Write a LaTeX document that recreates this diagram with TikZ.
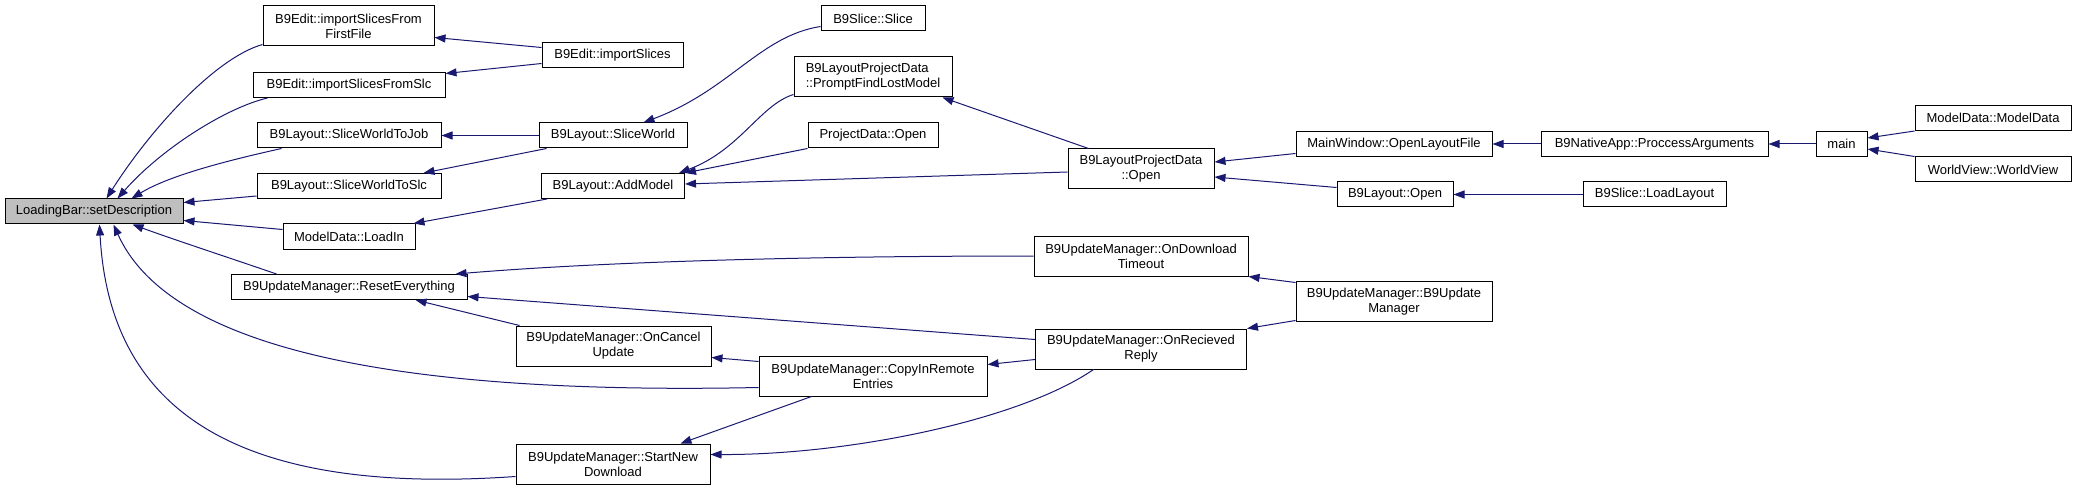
\documentclass[tikz,border=0pt]{standalone}
\usepackage{fontspec}
\setmainfont{Liberation Sans}
\usetikzlibrary{arrows.meta}
\definecolor{edgeblue}{HTML}{191970}
\definecolor{boxgray}{HTML}{BFBFBF}
\begin{document}
\begin{tikzpicture}[x=1pt, y=-1pt,
    fn/.style={draw=black, line width=1pt, fill=white, inner sep=0pt, minimum height=25pt, font=\fontsize{13}{15}\selectfont, align=center},
    fntwo/.style={fn, minimum height=40pt},
    call/.style={draw=edgeblue, line width=1pt, -{Triangle[length=11pt,width=8pt]}}]
  \useasboundingbox (0,0) rectangle (2077,489);

  % Nodi
  \node[fn, fill=boxgray, minimum width=178pt] (LB) at (94,211.5) {LoadingBar::setDescription};
  \node[fntwo, minimum width=171pt] (iSFF) at (348.5,26) {B9Edit::importSlicesFrom\\FirstFile};
  \node[fn, minimum width=192pt] (iSFS) at (349,85) {B9Edit::importSlicesFromSlc};
  \node[fn, minimum width=184pt] (SWTJ) at (349,135.5) {B9Layout::SliceWorldToJob};
  \node[fn, minimum width=184pt] (SWTS) at (349,186) {B9Layout::SliceWorldToSlc};
  \node[fn, minimum width=132pt] (LI) at (349,236.5) {ModelData::LoadIn};
  \node[fn, minimum width=236pt] (RE) at (349,287) {B9UpdateManager::ResetEverything};
  \node[fn, minimum width=141pt] (iS) at (612.5,55.5) {B9Edit::importSlices};
  \node[fn, minimum width=148pt] (SW) at (613,135.5) {B9Layout::SliceWorld};
  \node[fn, minimum width=143pt] (AM) at (613,186) {B9Layout::AddModel};
  \node[fntwo, minimum width=195pt] (OCU) at (613.5,346) {B9UpdateManager::OnCancel\\Update};
  \node[fntwo, minimum width=194pt] (SND) at (613,464) {B9UpdateManager::StartNew\\Download};
  \node[fn, minimum width=104pt] (Slice) at (873,18.5) {B9Slice::Slice};
  \node[fntwo, minimum width=158pt, align=left] (PFLM) at (873,77) {B9LayoutProjectData\\::PromptFindLostModel};
  \node[fn, minimum width=130pt] (PDO) at (873,135.5) {ProjectData::Open};
  \node[fntwo, minimum width=228pt] (CIR) at (873,376) {B9UpdateManager::CopyInRemote\\Entries};
  \node[fntwo, minimum width=146pt] (BLPD) at (1141,169) {B9LayoutProjectData\\::Open};
  \node[fntwo, minimum width=214pt] (ODT) at (1141,256) {B9UpdateManager::OnDownload\\Timeout};
  \node[fntwo, minimum width=211pt] (ORR) at (1141,349) {B9UpdateManager::OnRecieved\\Reply};
  \node[fn, minimum width=196pt] (MW) at (1394,144) {MainWindow::OpenLayoutFile};
  \node[fn, minimum width=116pt] (BLO) at (1395,194.5) {B9Layout::Open};
  \node[fntwo, minimum width=196pt] (BUM) at (1394,301.5) {B9UpdateManager::B9Update\\Manager};
  \node[fn, minimum width=227pt] (PA) at (1654.5,144) {B9NativeApp::ProccessArguments};
  \node[fn, minimum width=143pt] (LL) at (1654.5,194.5) {B9Slice::LoadLayout};
  \node[fn, minimum width=51pt] (MN) at (1841.5,144) {main};
  \node[fn, minimum width=156pt] (MD) at (1993,118) {ModelData::ModelData};
  \node[fn, minimum width=156pt] (WV) at (1993,169.5) {WorldView::WorldView};

  % Archi verso LoadingBar
  \draw[call] ([yshift=2pt]iSFF.south west) .. controls (215,58) and (150,130) .. ([xshift=102pt]LB.north west);
  \draw[call] ([xshift=15pt]iSFS.south west) .. controls (225,108) and (160,150) .. ([xshift=113pt]LB.north west);
  \draw[call] ([xshift=25pt]SWTJ.south west) .. controls (230,160) and (170,175) .. ([xshift=127pt]LB.north west);
  \draw[call] ([yshift=3pt]SWTS.south west) -- ([yshift=-4pt]LB.north east);
  \draw[call] ([yshift=-6pt]LI.north west) -- ([yshift=4pt]LB.south east);
  \draw[call] ([xshift=46pt]RE.north west) .. controls (230,258) and (175,240) .. ([xshift=128pt]LB.south west);
  \draw[call] ([yshift=9pt]CIR.south west) .. controls (400,395) and (170,350) .. ([xshift=109pt]LB.south west);
  \draw[call] ([yshift=8pt]SND.south west) .. controls (250,495) and (110,420) .. ([xshift=95pt]LB.south west);

  % Archi centrali
  \draw[call] ([yshift=-5pt]iS.north west) -- ([yshift=9pt]iSFF.south east);
  \draw[call] ([yshift=5pt]iS.south west) -- ([yshift=-1.5pt]iSFS.north east);
  \draw[call] (SW.west) -- (SWTJ.east);
  \draw[call] ([xshift=8pt]SW.south west) -- ([xshift=-18pt]SWTS.north east);
  \draw[call] ([yshift=5pt]Slice.south west) .. controls (760,36) and (730,90) .. ([xshift=-44pt]SW.north east);
  \draw[call] ([xshift=6pt]AM.south west) -- ([xshift=-2pt]LI.north east);
  \draw[call] ([yshift=3pt]PFLM.south west) .. controls (760,105) and (740,150) .. ([xshift=-6pt]AM.north east);
  \draw[call] (PDO.south west) -- (AM.north east);
  \draw[call] ([yshift=-3pt]BLPD.west) -- ([yshift=2pt]AM.east);
  \draw[call] ([xshift=21pt]BLPD.north west) -- ([xshift=-10pt]PFLM.south east);
  \draw[call] ([yshift=3.5pt]MW.south west) -- ([yshift=7pt]BLPD.east);
  \draw[call] ([yshift=-6pt]BLO.north west) -- ([yshift=-8pt]BLPD.east);
  \draw[call] (PA.west) -- (MW.east);
  \draw[call] (MN.west) -- (PA.east);
  \draw[call] (MD.south west) -- ([yshift=6pt]MN.east);
  \draw[call] (WV.north west) -- ([yshift=-5pt]MN.east);
  \draw[call] (LL.west) -- (BLO.east);

  % Archi B9UpdateManager
  \draw[call] (ODT.west) .. controls (800,256) and (600,262) .. ([xshift=-12pt]RE.north east);
  \draw[call] ([yshift=-11pt]ORR.north west) -- ([yshift=3.5pt]RE.south east);
  \draw[call] ([xshift=4pt]OCU.north west) -- ([xshift=-52pt]RE.south east);
  \draw[call] ([yshift=-6pt]CIR.north west) -- ([yshift=9pt]OCU.south east);
  \draw[call] ([xshift=53pt]CIR.south west) -- ([xshift=-30pt]SND.north east);
  \draw[call] ([yshift=10pt]ORR.south west) -- ([yshift=-9pt]CIR.north east);
  \draw[call] ([xshift=58.5pt]ORR.south west) .. controls (1020,420) and (850,455) .. ([yshift=-11pt]SND.north east);
  \draw[call] ([yshift=-1.5pt]BUM.north west) -- (ODT.south east);
  \draw[call] ([yshift=1.5pt]BUM.south west) -- (ORR.north east);
\end{tikzpicture}
\end{document}
